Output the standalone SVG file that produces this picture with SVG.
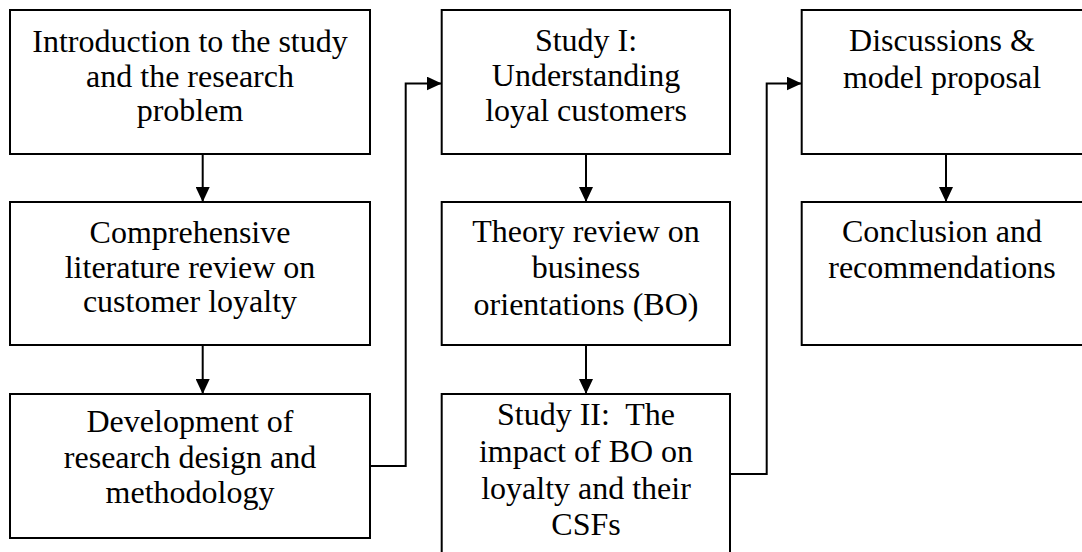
<svg xmlns="http://www.w3.org/2000/svg" width="1082" height="552" viewBox="0 0 1082 552">
  <style>
    .box { fill: #ffffff; stroke: #000000; stroke-width: 2; }
    .lbl { font-family: 'Liberation Serif', 'Times New Roman', Times, 'DejaVu Serif', serif; font-size: 32px; fill: #000000; text-anchor: middle; }
    .link { fill: none; stroke: #000000; stroke-width: 2; }
  </style>
  <defs>
    <marker id="head" viewBox="0 0 15 14" refX="15" refY="7" markerWidth="15" markerHeight="14" markerUnits="userSpaceOnUse" orient="auto">
      <path d="M0,0 L15,7 L0,14 Z" fill="#000000"/>
    </marker>
  </defs>
  <rect width="1082" height="552" fill="#ffffff"/>

  <!-- column 1 -->
  <g id="intro">
    <rect class="box" x="10" y="10" width="360" height="144"/>
    <text class="lbl" x="190" y="52">Introduction to the study</text>
    <text class="lbl" x="190" y="86.5">and the research</text>
    <text class="lbl" x="190" y="121">problem</text>
  </g>
  <g id="literature">
    <rect class="box" x="10" y="202" width="360" height="143"/>
    <text class="lbl" x="190" y="243">Comprehensive</text>
    <text class="lbl" x="190" y="277.5">literature review on</text>
    <text class="lbl" x="190" y="312">customer loyalty</text>
  </g>
  <g id="method">
    <rect class="box" x="10" y="394" width="360" height="144"/>
    <text class="lbl" x="190" y="432">Development of</text>
    <text class="lbl" x="190" y="467.5">research design and</text>
    <text class="lbl" x="190" y="503">methodology</text>
  </g>

  <!-- column 2 -->
  <g id="study1">
    <rect class="box" x="441.7" y="10" width="288.3" height="144"/>
    <text class="lbl" x="586" y="51">Study I:</text>
    <text class="lbl" x="586" y="85.5">Understanding</text>
    <text class="lbl" x="586" y="120.5">loyal customers</text>
  </g>
  <g id="theory">
    <rect class="box" x="441.7" y="202" width="288.3" height="143"/>
    <text class="lbl" x="586" y="242">Theory review on</text>
    <text class="lbl" x="586" y="278">business</text>
    <text class="lbl" x="586" y="314.5">orientations (BO)</text>
  </g>
  <g id="study2">
    <rect class="box" x="441.7" y="394" width="288.3" height="170"/>
    <text class="lbl" x="586" y="425" xml:space="preserve">Study II:  The</text>
    <text class="lbl" x="586" y="461.5">impact of BO on</text>
    <text class="lbl" x="586" y="498.5">loyalty and their</text>
    <text class="lbl" x="586" y="535">CSFs</text>
  </g>

  <!-- column 3 -->
  <g id="discussion">
    <rect class="box" x="801.7" y="10" width="290" height="144"/>
    <text class="lbl" x="942" y="51">Discussions &amp;</text>
    <text class="lbl" x="942" y="87.5">model proposal</text>
  </g>
  <g id="conclusion">
    <rect class="box" x="801.7" y="202" width="290" height="143"/>
    <text class="lbl" x="942" y="242">Conclusion and</text>
    <text class="lbl" x="942" y="278">recommendations</text>
  </g>

  <g id="connectors">
    <line class="link" x1="202.7" y1="154" x2="202.7" y2="202" marker-end="url(#head)"/>
    <line class="link" x1="202.7" y1="345" x2="202.7" y2="394" marker-end="url(#head)"/>
    <polyline class="link" points="370,466 405.7,466 405.7,83.5 441.7,83.5" marker-end="url(#head)"/>
    <line class="link" x1="586" y1="154" x2="586" y2="202" marker-end="url(#head)"/>
    <line class="link" x1="586" y1="345" x2="586" y2="394" marker-end="url(#head)"/>
    <polyline class="link" points="730,474 766.7,474 766.7,83.5 801.7,83.5" marker-end="url(#head)"/>
    <line class="link" x1="946" y1="154" x2="946" y2="202" marker-end="url(#head)"/>
  </g>
</svg>
